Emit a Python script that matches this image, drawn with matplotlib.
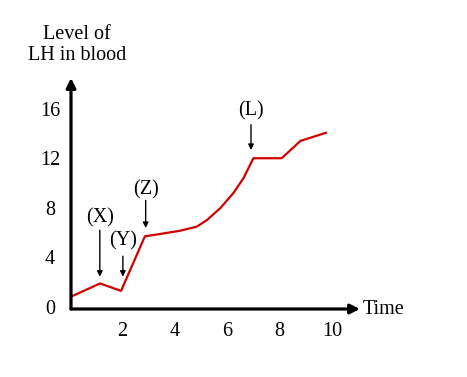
import matplotlib.pyplot as plt

# LH level over time
time = [0, 1.15, 1.95, 2.86, 3.44, 4.2, 4.84, 5.22, 5.73, 6.23, 6.62, 7.0, 8.08, 8.8, 9.77]
lh = [0.8, 1.9, 1.3, 5.7, 5.89, 6.15, 6.48, 7.0, 7.96, 9.17, 10.38, 12.0, 12.0, 13.4, 14.05]

xticks = [2, 4, 6, 8, 10]
yticks = [0, 4, 8, 12, 16]

# marker labels: text, arrow x, arrow start y, arrow end y, label y
markers = [
    ('(X)', 1.14, 6.2, 2.44, 7.2),
    ('(Y)', 2.02, 4.1, 2.44, 5.3),
    ('(Z)', 2.89, 8.6, 6.37, 9.45),
    ('(L)', 6.91, 14.7, 12.66, 15.85),
]

plt.rcParams['font.family'] = ['Liberation Serif', 'DejaVu Serif']
fs = 14.5

fig = plt.figure(figsize=(4.67, 3.77), dpi=100)
ax = fig.add_axes([71 / 467, 1 - 309 / 377, (360 - 71) / 467, (309 - 78) / 377])
ax.set_xlim(0.04, 11.07)
ax.set_ylim(-0.16, 18.47)

for s in ax.spines.values():
    s.set_visible(False)

ax.annotate('', xy=(0, 1), xytext=(0, 0), xycoords='axes fraction',
            arrowprops=dict(arrowstyle='-|>', lw=2.3, color='black', mutation_scale=14, shrinkA=0, shrinkB=0))
ax.annotate('', xy=(1, 0), xytext=(0, 0), xycoords='axes fraction',
            arrowprops=dict(arrowstyle='-|>', lw=2.3, color='black', mutation_scale=14, shrinkA=0, shrinkB=0))

ax.plot(time, lh, color='#d00000', lw=1.6)

for label, x, y0, y1, ly in markers:
    ax.annotate('', xy=(x, y1), xytext=(x, y0),
                arrowprops=dict(arrowstyle='-|>', lw=1, color='black', mutation_scale=8, shrinkA=0, shrinkB=0))
    ax.text(x, ly, label, ha='center', va='center', fontsize=fs)

ax.set_xticks(xticks)
ax.set_yticks(yticks)
ax.tick_params(axis='both', length=0, labelsize=fs)
ax.tick_params(axis='x', pad=9)
ax.tick_params(axis='y', pad=15)
for t in ax.get_yticklabels():
    t.set_horizontalalignment('center')

fig.text(77 / 467, 1 - 45 / 377, 'Level of\nLH in blood', ha='center', va='center', fontsize=fs, linespacing=1.2)
ax.text(1.01, 0, 'Time', transform=ax.transAxes, ha='left', va='center', fontsize=fs)

fig.savefig('out.png', dpi=100)
